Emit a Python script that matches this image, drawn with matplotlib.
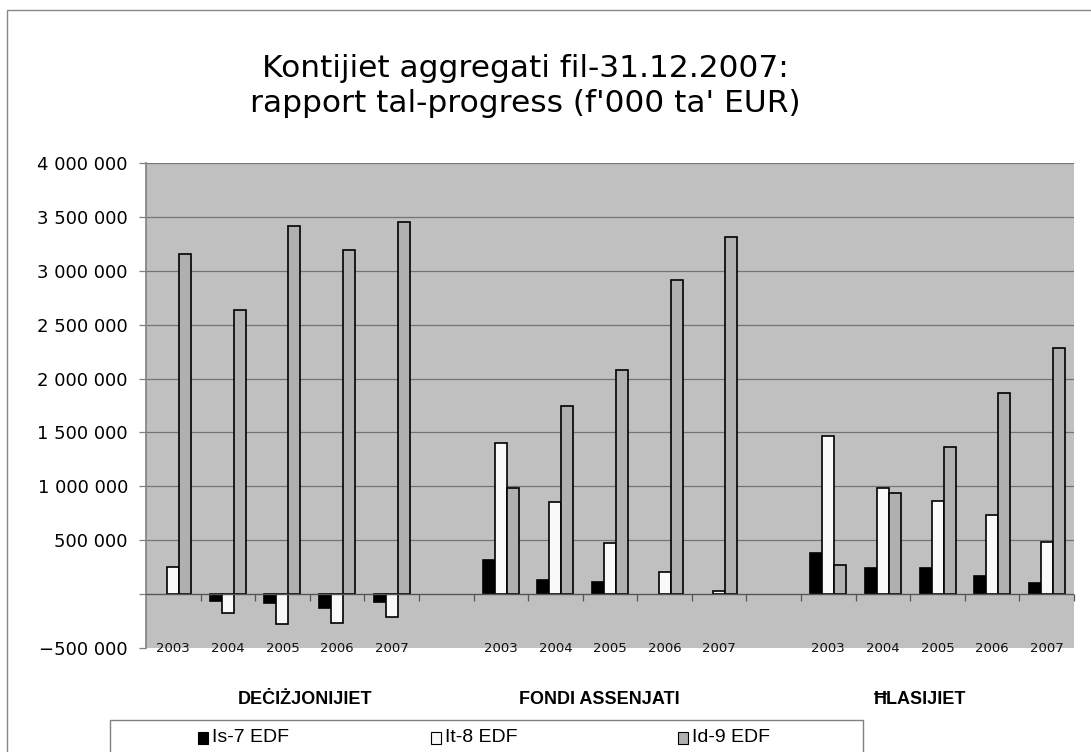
import matplotlib
matplotlib.use("Agg")
import matplotlib.pyplot as plt
from matplotlib.patches import Rectangle
import numpy as np

# ---- data ----
years = ["2003", "2004", "2005", "2006", "2007"]
groups = ["DEĊIŻJONIJIET", "FONDI ASSENJATI", "ĦLASIJIET"]
series_names = ["Is-7 EDF", "It-8 EDF", "Id-9 EDF"]

is7_dec = [0, -60000, -85000, -130000, -75000]
is7_fon = [312000, 130000, 117000, 0, 0]
is7_hla = [384000, 244000, 244000, 164000, 105000]

it8_dec = [250000, -177000, -280000, -270000, -208000]
it8_fon = [1403000, 851000, 470000, 207000, 33000]
it8_hla = [1468000, 988000, 861000, 737000, 480000]

id9_dec = [3160000, 2640000, 3420000, 3190000, 3455000]
id9_fon = [988000, 1747000, 2075000, 2915000, 3315000]
id9_hla = [272000, 941000, 1366000, 1862000, 2286000]

yticks = [-500000, 0, 500000, 1000000, 1500000, 2000000, 2500000, 3000000, 3500000, 4000000]

title = "Kontijiet aggregati fil-31.12.2007:\nrapport tal-progress (f'000 ta' EUR)"

# ---- figure ----
W, H = 1091, 752
fig = plt.figure(figsize=(W / 100, H / 100), dpi=100)
fig.patch.set_facecolor("white")

def fx(px):
    return px / W

def fy(py):
    return 1 - py / H

ax = fig.add_axes([fx(146), fy(648), fx(1074) - fx(146), fy(163) - fy(648)])
ax.set_facecolor("#c0c0c0")

series = [
    (is7_dec + [None] + is7_fon + [None] + is7_hla, "#000000"),
    (it8_dec + [None] + it8_fon + [None] + it8_hla, "#f9f9f9"),
    (id9_dec + [None] + id9_fon + [None] + id9_hla, "#b0b0b0"),
]
n_slots = len(years) * len(groups) + len(groups) - 1
slots = np.arange(n_slots)
bw = 0.22
for i, (vals, col) in enumerate(series):
    xs = [s + (i - 1) * bw for s, v in zip(slots, vals) if v is not None and v != 0]
    vs = [v for v in vals if v is not None and v != 0]
    ax.bar(xs, vs, width=bw, color=col, edgecolor="black", linewidth=1.2, zorder=3)

ax.set_xlim(-0.5, n_slots - 0.5)
ax.set_ylim(yticks[0], yticks[-1])

# gridlines
for t in yticks[1:]:
    if t != 0:
        ax.axhline(t, color="#747474", lw=0.9, zorder=1)
ax.axhline(0, color="#555555", lw=1.0, zorder=4)

# category boundary ticks on zero line
bounds = np.arange(0.5, n_slots, 1.0)
ax.plot(bounds, np.zeros_like(bounds), ls="none", marker=3, markersize=5,
        markeredgecolor="#555555", markeredgewidth=0.9, zorder=4, clip_on=False)

# x labels
label_pos = [g * (len(years) + 1) + j for g in range(len(groups)) for j in range(len(years))]
ax.set_xticks(label_pos)
ax.set_xticklabels(years * len(groups), fontsize=9.5, family="DejaVu Sans")
ax.tick_params(axis="x", length=0, pad=-4, colors="#111111", labelsize=9.5)

# y axis
def fmt(v):
    if v == 0:
        return ""
    s = f"{abs(v):,}".replace(",", " ")
    return ("\u2212" if v < 0 else "") + s

ax.set_yticks(yticks)
ax.set_yticklabels([fmt(v) for v in yticks], fontsize=13, family="DejaVu Sans")
ax.tick_params(axis="y", length=5, width=0.9, color="#808080", pad=8, labelsize=13)

for sp in ["top", "right", "bottom"]:
    ax.spines[sp].set_visible(False)
ax.spines["left"].set_color("#808080")
ax.spines["left"].set_linewidth(1.2)

# title
fig.text(fx(525), fy(86), title, ha="center", va="center", fontsize=22.5,
         family="DejaVu Sans", linespacing=1.25)

# group labels
for g, xp in zip(groups, [305, 599, 920]):
    fig.text(fx(xp), fy(700), g, ha="center", va="center", fontsize=13,
             family=["Liberation Sans", "DejaVu Sans"], fontweight="bold")

# legend box
fig.add_artist(Rectangle((fx(110), fy(770)), fx(863) - fx(110), fy(720) - fy(770),
                         transform=fig.transFigure, facecolor="white",
                         edgecolor="#808080", lw=1.0))
for (vals, col), name, xp in zip(series, series_names, [198, 431, 678]):
    fig.add_artist(Rectangle((fx(xp), fy(744)), fx(10), 12 / H,
                             transform=fig.transFigure, facecolor=col,
                             edgecolor="black", lw=0.8))
    fig.text(fx(xp + 14), fy(738), name, ha="left", va="center", fontsize=14,
             family=["Liberation Sans", "DejaVu Sans"])

# outer chart border
fig.add_artist(Rectangle((fx(7), -0.05), 1.1, fy(10) + 0.05,
                         transform=fig.transFigure, facecolor="none",
                         edgecolor="#888888", lw=1.0))

fig.savefig("out.png", dpi=100)
